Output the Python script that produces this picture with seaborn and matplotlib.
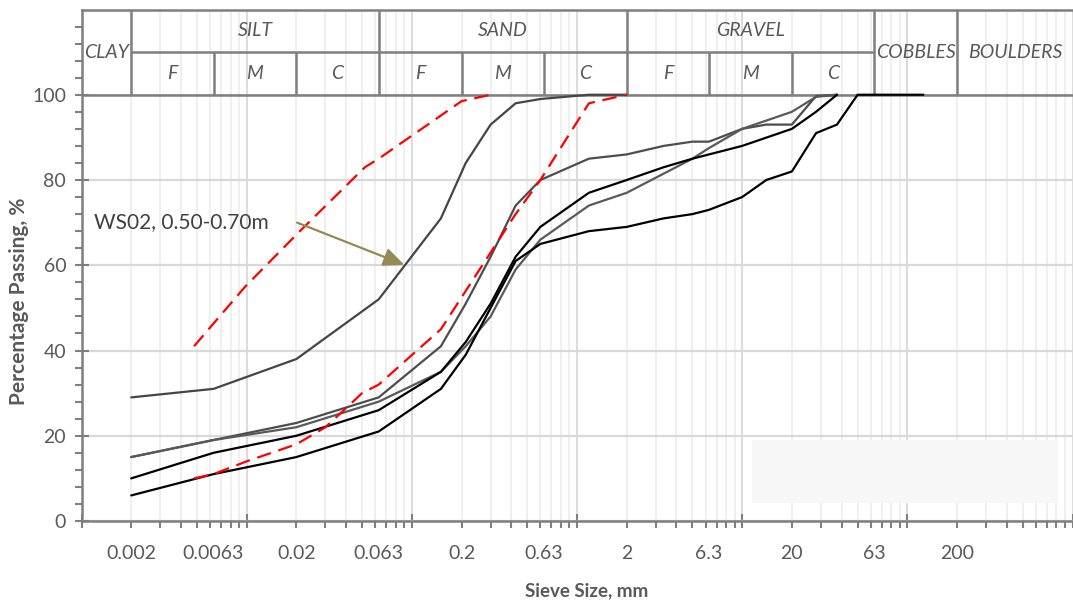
import numpy as np
import pandas as pd
import matplotlib
matplotlib.use("Agg")
import matplotlib.pyplot as plt
from matplotlib.ticker import FixedLocator, NullFormatter
from matplotlib.patches import Rectangle
import seaborn as sns

# ---------------- data ----------------
ws02_size = [0.002, 0.0063, 0.02, 0.063, 0.15, 0.212, 0.3, 0.425, 0.6, 1.18, 2]
ws02_pass = [29, 31, 38, 52, 71, 84, 93, 98, 99, 100, 100]

a_size = [0.002, 0.0063, 0.02, 0.063, 0.15, 0.212, 0.3, 0.425, 0.6, 1.18, 2, 3.35, 5, 6.3, 10, 14, 20, 28, 37.5]
a_pass = [15, 19, 23, 29, 41, 51, 62, 74, 80, 85, 86, 88, 89, 89, 92, 93, 93, 99.7, 100]

b_size = [0.002, 0.0063, 0.02, 0.063, 0.15, 0.212, 0.3, 0.425, 0.6, 1.18, 2, 3.35, 5, 6.3, 10, 20, 28, 37.5]
b_pass = [15, 19, 22, 28, 35, 41, 48, 59, 66, 74, 77, 81.5, 85, 87.5, 92, 96, 99.5, 100]

c_size = [0.002, 0.0063, 0.02, 0.063, 0.15, 0.212, 0.3, 0.425, 0.6, 1.18, 2, 3.35, 5, 6.3, 10, 20, 28, 37.5]
c_pass = [10, 16, 20, 26, 35, 42, 51, 62, 69, 77, 80, 83, 85, 86, 88, 92, 96, 100]

d_size = [0.002, 0.0063, 0.02, 0.063, 0.15, 0.212, 0.3, 0.425, 0.6, 1.18, 2, 3.35, 5, 6.3, 10, 14, 20, 28, 37.5, 50, 125]
d_pass = [6, 11, 15, 21, 31, 39, 50, 61, 65, 68, 69, 71, 72, 73, 76, 80, 82, 91, 93, 100, 100]

red1_size = [0.0048, 0.0098, 0.021, 0.052, 0.063, 0.2, 0.3]
red1_pass = [41, 55, 68, 83, 85, 98.5, 100]

red2_size = [0.0048, 0.0063, 0.01, 0.02, 0.03, 0.05, 0.063, 0.15, 0.3, 0.425, 0.6, 1.18, 2]
red2_pass = [10, 11, 14, 18, 22, 30, 32, 45, 63, 72, 80, 98, 100]

# header / classification
group_names = ["CLAY", "SILT", "SAND", "GRAVEL", "COBBLES", "BOULDERS"]
group_edges = [0.001, 0.002, 0.063, 2, 63, 200, 1000]
sub_names = ["F", "M", "C"]
sub_boundaries = [0.0063, 0.02, 0.2, 0.63, 6.3, 20]

x_label_vals = [0.002, 0.0063, 0.02, 0.063, 0.2, 0.63, 2, 6.3, 20, 63, 200]
x_label_txt = ["0.002", "0.0063", "0.02", "0.063", "0.2", "0.63", "2", "6.3", "20", "63", "200"]
y_tick_vals = [0, 20, 40, 60, 80, 100]

annot_text = "WS02, 0.50-0.70m"

# ---------------- build frame ----------------
series = {
    "WS02": (ws02_size, ws02_pass),
    "A": (a_size, a_pass),
    "B": (b_size, b_pass),
    "C": (c_size, c_pass),
    "D": (d_size, d_pass),
    "R1": (red1_size, red1_pass),
    "R2": (red2_size, red2_pass),
}
frames = []
for name, (xs, ys) in series.items():
    frames.append(pd.DataFrame({"size": xs, "passing": ys, "sample": name}))
df = pd.concat(frames, ignore_index=True)

palette = {"WS02": "#454545", "A": "#4d4d4d", "B": "#595959", "C": "#000000",
           "D": "#000000", "R1": "#ff0000", "R2": "#ff0000"}
dashes = {"WS02": "", "A": "", "B": "", "C": "", "D": "", "R1": (6.5, 3.5), "R2": (6.5, 3.5)}

# ---------------- style ----------------
sns.set_style("white")
plt.rcParams["font.family"] = ["Lato", "DejaVu Sans"]
GRAY = "#7f7f7f"
TXT = "#595959"

fig = plt.figure(figsize=(10.73, 6.03), dpi=100)
W, H = 1073, 603
ax = fig.add_axes([81.5 / W, (H - 521) / H, 991 / W, 511.5 / H])
ax.set_xscale("log")

sns.lineplot(data=df, x="size", y="passing", hue="sample", style="sample",
             palette=palette, dashes=dashes, linewidth=1.6, sort=False,
             estimator=None, legend=False, ax=ax, zorder=4)

ax.set_xlim(0.001, 1000)
ax.set_ylim(0, 120)

# ticks
ax.xaxis.set_major_locator(FixedLocator([10.0 ** k for k in range(-3, 4)]))
minors = [m * 10.0 ** k for k in range(-3, 3) for m in range(2, 10)]
ax.xaxis.set_minor_locator(FixedLocator(minors))
ax.xaxis.set_major_formatter(NullFormatter())
ax.xaxis.set_minor_formatter(NullFormatter())
ax.yaxis.set_major_locator(FixedLocator(y_tick_vals))
ax.yaxis.set_minor_locator(FixedLocator([v for v in range(4, 120, 4) if v % 20 != 0]))
ax.set_yticklabels([str(v) for v in y_tick_vals])

ax.tick_params(axis="both", which="major", direction="inout", length=10, width=1.5,
               color=GRAY, labelcolor=TXT, labelsize=14)
ax.tick_params(axis="both", which="minor", direction="out", length=5, width=1.5, color=GRAY)
ax.tick_params(axis="y", which="major", pad=6)
ax.tick_params(axis="x", bottom=True, which="both")
ax.tick_params(axis="y", left=True, which="both")

# grid
ax.grid(which="major", axis="x", color="#d9d9d9", lw=1.3)
ax.grid(which="minor", axis="x", color="#eeeeee", lw=1.3)
ax.grid(which="major", axis="y", color="#d9d9d9", lw=1.6)
ax.set_axisbelow(True)

for s in ["left", "bottom", "top"]:
    ax.spines[s].set_color(GRAY)
    ax.spines[s].set_linewidth(1.8)
ax.spines["right"].set_visible(False)

# header table
ax.hlines(100, 0.001, 1000, color=GRAY, lw=1.8, zorder=3)
ax.hlines(110, group_edges[1], group_edges[4], color=GRAY, lw=1.8, zorder=3)
ax.vlines(group_edges[1:-1], 100, 120, color=GRAY, lw=1.8, zorder=3)
ax.vlines(sub_boundaries, 100, 110, color=GRAY, lw=1.8, zorder=3)

for i, name in enumerate(group_names):
    lo, hi = group_edges[i], group_edges[i + 1]
    xc = np.sqrt(lo * hi)
    yc = 115 if name in ("SILT", "SAND", "GRAVEL") else 110
    ax.text(xc, yc, name, ha="center", va="center", fontsize=14, style="italic",
            color=TXT, zorder=5)
    if name in ("SILT", "SAND", "GRAVEL"):
        pts = [lo] + [b for b in sub_boundaries if lo < b < hi] + [hi]
        for j, sn in enumerate(sub_names):
            ax.text(np.sqrt(pts[j] * pts[j + 1]), 105, sn, ha="center", va="center",
                    fontsize=14, style="italic", color=TXT, zorder=5)

# custom x labels
xtr = ax.get_xaxis_transform()
for v, t in zip(x_label_vals, x_label_txt):
    ax.text(v, -0.0626, t, transform=xtr, ha="center", va="center", fontsize=14, color=TXT)

ax.set_xlabel("Sieve Size, mm", fontsize=13.5, fontweight="bold", color=TXT, va="center")
ax.xaxis.set_label_coords(0.51, -0.137)
ax.set_ylabel("Percentage Passing, %", fontsize=15, fontweight="bold", color=TXT, va="center")
ax.yaxis.set_label_coords(-0.063, 0.43)

# empty legend-like box
ax.add_patch(Rectangle((0.6763, 0.0358), 0.3094, 0.1226, transform=ax.transAxes,
                       facecolor="#f7f7f7", edgecolor="none", zorder=1))

# annotation
ax.text(0.00119, 70.1, annot_text, ha="left", va="center", fontsize=15, color="#404040", zorder=5)
ax.annotate("", xy=(0.09, 60.1), xytext=(0.0202, 70.0),
            arrowprops=dict(arrowstyle="-|>,head_length=0.9,head_width=0.4",
                            color="#948a54", lw=1.6, mutation_scale=14,
                            shrinkA=0, shrinkB=0), zorder=5)

fig.savefig("out.png", dpi=100)
